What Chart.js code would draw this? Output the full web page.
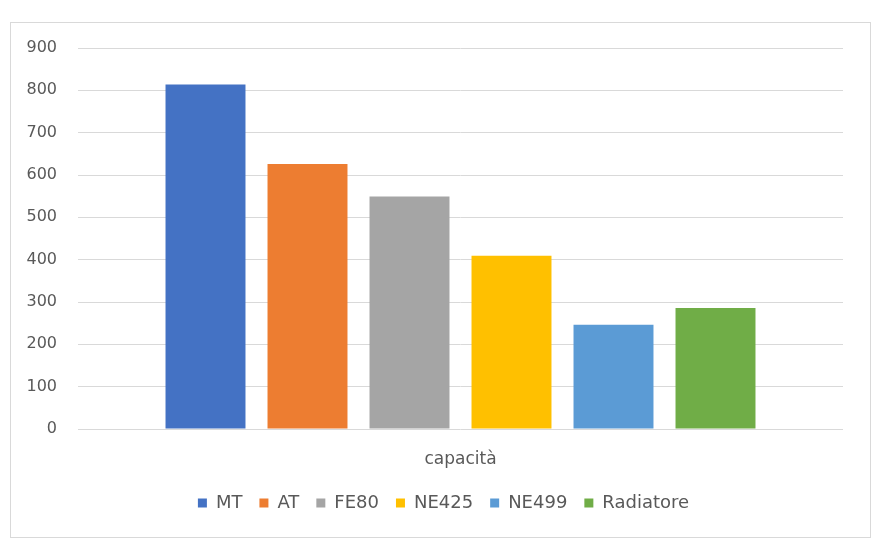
<!DOCTYPE html>
<html lang="it">
<head>
<meta charset="UTF-8">
<title>capacità</title>
<script src="https://cdn.jsdelivr.net/npm/chart.js"></script>
<style>
    body { margin: 0; background: #fff; }
    .wrap { position: relative; width: 887px; height: 544px; }
    .frame { position: absolute; left: 10px; top: 22px; width: 859px; height: 514px; border: 1px solid #d9d9d9; }
    canvas { position: absolute; left: 0; top: 0; }
</style>
</head>
<body>
<div class="wrap">
    <div class="frame"></div>
    <canvas id="myChart" width="887" height="544"></canvas>
</div>

<script>
    // dati
    const categorie = ['capacità'];
    const serie = ['MT', 'AT', 'FE80', 'NE425', 'NE499', 'Radiatore'];
    const valori = [814, 626, 549, 409, 246, 286];
    const colori = ['#4472C4', '#ED7D31', '#A5A5A5', '#FFC000', '#5B9BD5', '#70AD47'];
    const yTicks = [0, 100, 200, 300, 400, 500, 600, 700, 800, 900];

    const grigio = '#595959';

    const datasets = serie.map((nome, i) => ({
        label: nome,
        data: [valori[i]],
        backgroundColor: colori[i],
        borderWidth: 0
    }));

    const ctx = document.getElementById('myChart').getContext('2d');
    const myChart = new Chart(ctx, {
        type: 'bar',
        data: { labels: categorie, datasets: datasets },
        options: {
            responsive: false,
            animation: false,
            categoryPercentage: 0.8,
            barPercentage: 0.784,
            layout: { padding: { top: 48, right: 0, bottom: 22, left: 0 } },
            plugins: {
                tooltip: { enabled: false },
                legend: {
                    position: 'bottom',
                    labels: {
                        boxWidth: 9,
                        boxHeight: 9,
                        padding: 17,
                        color: grigio,
                        font: { family: 'DejaVu Sans', size: 18 }
                    }
                }
            },
            scales: {
                x: {
                    grid: { display: false },
                    border: { display: false },
                    ticks: { color: grigio, font: { family: 'DejaVu Sans', size: 17 }, padding: 12 },
                    afterFit: (s) => { s.height = 48; }
                },
                y: {
                    min: 0,
                    max: 900,
                    afterBuildTicks: (s) => { s.ticks = yTicks.map(v => ({ value: v })); },
                    grid: { color: '#d9d9d9', drawTicks: false },
                    border: { display: false },
                    ticks: { color: grigio, font: { family: 'DejaVu Sans', size: 16 }, padding: 21 },
                    afterFit: (s) => { s.width = 78; }
                },
                // spazio vuoto a destra, così la legenda resta centrata sulla pagina
                destra: {
                    position: 'right',
                    grid: { display: false },
                    border: { display: false },
                    ticks: { display: false },
                    afterFit: (s) => { s.width = 44; }
                }
            }
        }
    });
</script>
</body>
</html>
